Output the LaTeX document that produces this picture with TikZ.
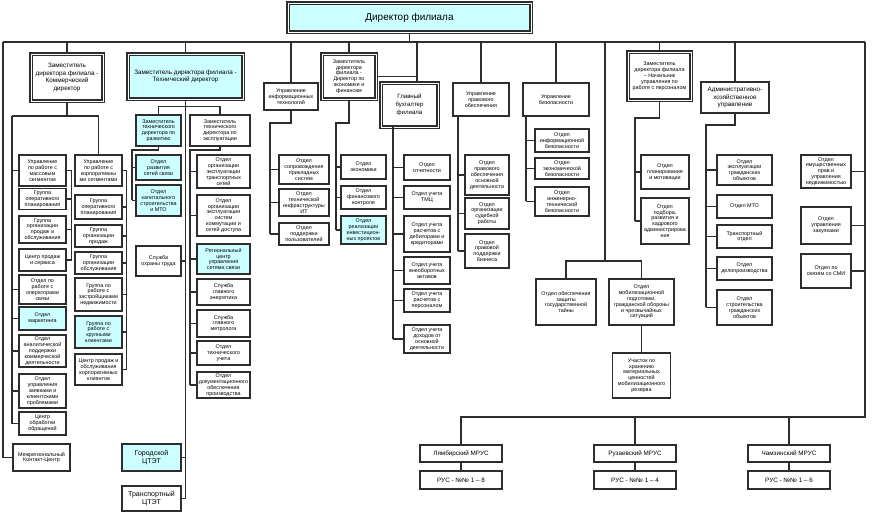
\documentclass[tikz,border=0pt]{standalone}
\usepackage{fontspec}
\setmainfont{Liberation Sans}
\definecolor{lightcyan}{RGB}{204,255,255}
\definecolor{linegray}{RGB}{45,45,45}
\newcommand{\orgtiny}{\fontsize{4.6}{5}\selectfont}
\newcommand{\orgmid}{\fontsize{5.4}{6.6}\selectfont}
\begin{document}
\begin{tikzpicture}[x=0.03cm,y=-0.03cm,
    box/.style={rectangle,draw=linegray,line width=1pt,fill=white,align=center,inner sep=0.5pt,font=\orgtiny},
    sz/.style 2 args={minimum width=#1*0.03cm,minimum height=#2*0.03cm},
    hl/.style={fill=lightcyan},
    dbl/.style={double,double distance=0.8pt,line width=0.9pt},
    link/.style={draw=linegray,line width=1.1pt}]
    \useasboundingbox (0,0) rectangle (872,516);

    % top level
    \node[box,dbl,hl,sz={243}{29},font=\fontsize{8.5}{10}\selectfont] (dir) at (409.5,17.5) {Директор филиала};
    \node[box,dbl,sz={72}{47},font=\orgmid] (com) at (67,77.5) {Заместитель\\директора филиала -\\Коммерческий\\директор};
    \node[box,dbl,hl,sz={115}{45},font=\orgmid] (tech) at (185.5,76.5) {Заместитель директора филиала -\\Технический директор};
    \node[box,sz={54}{27}] (it) at (291,96.5) {Управление\\информационных\\технологий};
    \node[box,dbl,sz={54}{45}] (def) at (349,76.5) {Заместитель\\директора\\филиала -\\Директор по\\экономике и\\финансам};
    \node[box,dbl,sz={57}{44},font=\fontsize{5.2}{6.6}\selectfont] (gb) at (409.5,105) {Главный\\бухгалтер\\филиала};
    \node[box,sz={56}{33}] (prav) at (481,99.5) {Управление\\правового\\обеспечения};
    \node[box,sz={66}{33}] (bez) at (556,99.5) {Управление\\безопасности};
    \node[box,dbl,sz={63}{48}] (hr) at (659.5,76) {Заместитель\\директора филиала\\– Начальник\\управления по\\работе с персоналом};
    \node[box,sz={68}{31},font=\orgmid] (ahu) at (735,97.5) {Административно-\\хозяйственное\\управление};

    % commercial director
    \node[box,sz={47}{31}] (a1) at (42.5,170.5) {Управление\\по работе с\\массовым\\сегментом};
    \node[box,sz={47}{21}] (a2) at (42.5,199) {Группа\\оперативного\\планирования};
    \node[box,sz={47}{27}] (a3) at (42.5,229.5) {Группа\\организации\\продаж и\\обслуживания};
    \node[box,sz={47}{22}] (a4) at (42.5,260) {Центр продаж\\и сервиса};
    \node[box,sz={47}{29}] (a5) at (42.5,289.5) {Отдел по\\работе с\\операторами\\связи};
    \node[box,hl,sz={47}{23}] (a6) at (42.5,318.5) {Отдел\\маркетинга};
    \node[box,sz={47}{32}] (a7) at (42.5,351) {Отдел\\аналитической\\поддержки\\коммерческой\\деятельности};
    \node[box,sz={47}{34}] (a8) at (42.5,391) {Отдел\\управления\\заявками и\\клиентскими\\проблемами};
    \node[box,sz={47}{23}] (a9) at (42.5,423.5) {Центр\\обработки\\обращений};
    \node[box,sz={57}{27}] (mk) at (41.5,457.5) {Межрегиональный\\Контакт-Центр};

    \node[box,sz={47}{31}] (b1) at (98.5,170.5) {Управление\\по работе с\\корпоративны\\ми сегментами};
    \node[box,sz={47}{24}] (b2) at (98.5,207) {Группа\\оперативного\\планирования};
    \node[box,sz={47}{22}] (b3) at (98.5,236) {Группа\\организации\\продаж};
    \node[box,sz={47}{22}] (b4) at (98.5,263) {Группа\\организации\\обслуживания};
    \node[box,sz={47}{33}] (b5) at (98.5,294.5) {Группа по\\работе с\\застройщиками\\недвижимости};
    \node[box,hl,sz={47}{32}] (b6) at (98.5,332) {Группа по\\работе с\\крупными\\клиентами};
    \node[box,sz={47}{31}] (b7) at (98.5,369.5) {Центр продаж и\\обслуживания\\корпоративных\\клиентов};

    % technical director
    \node[box,hl,sz={45}{31}] (razv) at (158.5,130.5) {Заместитель\\технического\\директора по\\развитию};
    \node[box,sz={60}{31}] (expl) at (220,130.5) {Заместитель\\технического\\директора по\\эксплуатации};
    \node[box,hl,sz={45}{25}] (r1) at (158.5,167.5) {Отдел\\развития\\сетей связи};
    \node[box,hl,sz={45}{31}] (r2) at (158.5,200.5) {Отдел\\капитального\\строительства\\и МТО};
    \node[box,sz={45}{30}] (sot) at (158.5,261) {Служба\\охраны труда};
    \node[box,hl,sz={59}{27},font=\fontsize{6}{7.5}\selectfont] (gc) at (151.5,457.5) {Городской\\ЦТЭТ};
    \node[box,sz={59}{25},font=\fontsize{6}{7.5}\selectfont] (tc) at (151.5,498.5) {Транспортный\\ЦТЭТ};

    \node[box,sz={53}{33}] (e1) at (223.5,171.5) {Отдел\\организации\\эксплуатации\\транспортных\\сетей};
    \node[box,sz={53}{41}] (e2) at (223.5,215.5) {Отдел\\организации\\эксплуатации\\систем\\коммутации и\\сетей доступа};
    \node[box,hl,sz={53}{30}] (e3) at (223.5,259) {Региональный\\центр\\управления\\сетями связи};
    \node[box,sz={53}{26}] (e4) at (223.5,292) {Служба\\главного\\энергетика};
    \node[box,sz={53}{27}] (e5) at (223.5,323.5) {Служба\\главного\\метролога};
    \node[box,sz={53}{24}] (e6) at (223.5,353) {Отдел\\технического\\учета};
    \node[box,sz={53}{26}] (e7) at (223.5,385) {Отдел\\документационного\\обеспечения\\производства};

    % IT, economics, accounting
    \node[box,sz={50}{29}] (i1) at (304,169.5) {Отдел\\сопровождения\\прикладных\\систем};
    \node[box,sz={50}{27}] (i2) at (304,202.5) {Отдел\\технической\\инфраструктуры\\ИТ};
    \node[box,sz={50}{22}] (i3) at (304,234) {Отдел\\поддержки\\пользователей};

    \node[box,sz={45}{24}] (f1) at (363.5,167) {Отдел\\экономики};
    \node[box,sz={45}{23}] (f2) at (363.5,197.5) {Отдел\\финансового\\контроля};
    \node[box,hl,sz={45}{28}] (f3) at (363.5,230) {Отдел\\реализации\\инвестицион-\\ных проектов};

    \node[box,sz={46}{25}] (g1) at (427,167.5) {Отдел\\отчетности};
    \node[box,sz={46}{23}] (g2) at (427,197.5) {Отдел учета\\ТМЦ};
    \node[box,sz={46}{36}] (g3) at (427,234) {Отдел учета\\расчетов с\\дебиторами и\\кредиторами};
    \node[box,sz={46}{27}] (g4) at (427,270.5) {Отдел учета\\внеоборотных\\активов};
    \node[box,sz={46}{23}] (g5) at (427,300.5) {Отдел учета\\расчетов с\\персоналом};
    \node[box,sz={46}{28}] (g6) at (427,339) {Отдел учета\\доходов от\\основной\\деятельности};

    % legal, security
    \node[box,sz={44}{40}] (p1) at (487,175) {Отдел\\правового\\обеспечения\\основной\\деятельности};
    \node[box,sz={44}{31}] (p2) at (487,213.5) {Отдел\\организации\\судебной\\работы};
    \node[box,sz={44}{34}] (p3) at (487,251) {Отдел\\правовой\\поддержки\\бизнеса};

    \node[box,sz={54}{23}] (s1) at (562,140.5) {Отдел\\информационной\\безопасности};
    \node[box,sz={54}{21}] (s2) at (562,168.5) {Отдел\\экономической\\безопасности};
    \node[box,sz={54}{29}] (s3) at (562,201.5) {Отдел\\инженерно-\\технической\\безопасности};

    \node[box,sz={60}{46}] (gt) at (566,302) {Отдел обеспечения\\защиты\\государственной\\тайны};
    \node[box,sz={65}{46}] (mob) at (641.5,302) {Отдел\\мобилизационной\\подготовки,\\гражданской обороны\\и чрезвычайных\\ситуаций};
    \node[box,sz={58}{45}] (uch) at (641.5,375.5) {Участок по\\хранению\\материальных\\ценностей\\мобилизационного\\резерва};

    % personnel, administration
    \node[box,sz={48}{34}] (h1) at (665,172) {Отдел\\планирования\\и мотивации};
    \node[box,sz={48}{46}] (h2) at (665,221) {Отдел\\подбора,\\развития и\\кадрового\\администрирова\\ния};

    \node[box,sz={55}{30}] (x1) at (744.5,170) {Отдел\\эксплуатации\\гражданских\\объектов};
    \node[box,sz={55}{23}] (x2) at (744.5,206.5) {Отдел МТО};
    \node[box,sz={55}{23}] (x3) at (744.5,236.5) {Транспортный\\отдел};
    \node[box,sz={55}{23}] (x4) at (744.5,268.5) {Отдел\\делопроизводства};
    \node[box,sz={55}{35}] (x5) at (744.5,307.5) {Отдел\\строительства\\гражданских\\объектов};

    \node[box,sz={50}{33}] (q1) at (826,171.5) {Отдел\\имущественных\\прав и\\управления\\недвижимостью};
    \node[box,sz={50}{37}] (q2) at (826,225.5) {Отдел\\управления\\закупками};
    \node[box,sz={50}{34}] (q3) at (826,271) {Отдел по\\связям со СМИ};

    % regional units
    \node[box,sz={82}{17},font=\orgmid] (m1) at (461,453.5) {Лямбирский МРУС};
    \node[box,sz={82}{18},font=\orgmid] (m1r) at (461,480) {РУС - №№ 1 – 8};
    \node[box,sz={82}{17},font=\orgmid] (m2) at (635,453.5) {Рузаевский МРУС};
    \node[box,sz={82}{18},font=\orgmid] (m2r) at (635,480) {РУС - №№ 1 – 4};
    \node[box,sz={82}{17},font=\orgmid] (m3) at (789,453.5) {Чамзинский МРУС};
    \node[box,sz={82}{18},font=\orgmid] (m3r) at (789,480) {РУС - №№ 1 – 6};

    % bus
    \coordinate (busL) at (3,42);
    \coordinate (busR) at (865,42);
    \coordinate (gbtop) at (417,83);
    \coordinate (mfork) at (605,261);
    \coordinate (botR) at (865,417);
    \draw[link] (busL) -- (busR);
    \draw[link] (dir.south) -- (dir.south |- busL);
    \foreach \n in {com,tech,it,def,prav,bez,hr,ahu}
        \draw[link] (\n.north) -- (\n.north |- busL);
    \draw[link] (gbtop) -- (gbtop |- busL);
    \draw[link] (def.east) -- (def.east -| gbtop);
    \draw[link] (busL) |- (mk.west);

    % commercial
    \coordinate (comL) at (12,116);
    \draw[link] (com.south) -- (com.south |- comL);
    \draw[link] (comL) -- (comL -| b1.north) -- (b1.north);
    \draw[link] (comL) -- (comL |- a9.west);
    \foreach \n in {a1,a5,a6,a7,a8,a9}
        \draw[link] (\n.west) -- (\n.west -| comL);
    \draw[link] (a1.east) -- ++(5,0) coordinate (abr) |- (a4.east);
    \foreach \n in {a2,a3}
        \draw[link] (\n.east) -- (\n.east -| abr);
    \draw[link] (b1.east) -- ++(4,0) coordinate (bbr) |- (b7.east);
    \foreach \n in {b2,b3,b4,b5,b6}
        \draw[link] (\n.east) -- (\n.east -| bbr);

    % technical
    \draw[link] (razv.north) -- ++(0,-8) -| (expl.north);
    \draw[link] (tech.south) -- (tech.south |- tc.east);
    \foreach \n in {sot,gc,tc}
        \draw[link] (\n.east) -- (\n.east -| tech.south);
    \coordinate (rbr) at (132,150);
    \draw[link] (razv.south) |- (rbr) -- (rbr |- r2.west);
    \foreach \n in {r1,r2}
        \draw[link] (\n.west) -- (\n.west -| rbr);
    \coordinate (ebr) at (190,150);
    \draw[link] (expl.south) |- (ebr) -- (ebr |- e7.west);
    \foreach \n in {e1,e2,e3,e4,e5,e6,e7}
        \draw[link] (\n.west) -- (\n.west -| ebr);

    % IT, economics, accounting
    \coordinate (ibr) at (270,123);
    \draw[link] (it.south) |- (ibr) -- (ibr |- i3.west);
    \foreach \n in {i1,i2,i3}
        \draw[link] (\n.west) -- (\n.west -| ibr);
    \coordinate (fbr) at (336,123);
    \draw[link] (def.south) |- (fbr) -- (fbr |- f3.west);
    \foreach \n in {f1,f2,f3}
        \draw[link] (\n.west) -- (\n.west -| fbr);
    \coordinate (gbr) at (393,127);
    \draw[link] (gbr) -- (gbr |- g6.west);
    \foreach \n in {g1,g2,g3,g4,g5,g6}
        \draw[link] (\n.west) -- (\n.west -| gbr);

    % legal, security
    \coordinate (pbr) at (458,116);
    \draw[link] (pbr) -- (pbr |- p3.west);
    \foreach \n in {p1,p2,p3}
        \draw[link] (\n.west) -- (\n.west -| pbr);
    \coordinate (sbr) at (526,116);
    \draw[link] (sbr) -- (sbr |- s3.west);
    \foreach \n in {s1,s2,s3}
        \draw[link] (\n.west) -- (\n.west -| sbr);
    \draw[link] (mfork |- busL) -- (mfork);
    \draw[link] (gt.north) |- (mfork) -| (mob.north);
    \draw[link] (mob.south) -- (uch.north);

    % personnel, administration
    \coordinate (hbr) at (635,118);
    \draw[link] (hr.south) |- (hbr) -- (hbr |- h2.west);
    \foreach \n in {h1,h2}
        \draw[link] (\n.west) -- (\n.west -| hbr);
    \coordinate (xbr) at (706,125);
    \draw[link] (ahu.south) |- (xbr) -- (xbr |- x5.west);
    \foreach \n in {x1,x2,x3,x4,x5}
        \draw[link] (\n.west) -- (\n.west -| xbr);
    \foreach \n in {q1,q2,q3}
        \draw[link] (\n.east) -- (\n.east -| busR);

    % regional units
    \draw[link] (busR) -- (botR) -| (m1.north);
    \foreach \n in {m2,m3}
        \draw[link] (\n.north) -- (\n.north |- botR);
    \foreach \n in {m1,m2,m3}
        \draw[link] (\n.south) -- (\n r.north);
\end{tikzpicture}
\end{document}
